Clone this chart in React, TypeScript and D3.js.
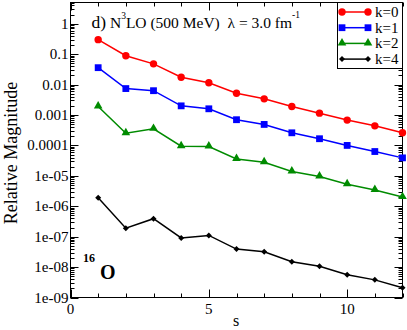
import React from 'react';
import * as d3 from 'd3';

// values, s = 1..12
const sValues = [1, 2, 3, 4, 5, 6, 7, 8, 9, 10, 11, 12];
const k0 = [0.3, 0.089, 0.048, 0.0175, 0.0115, 0.0052, 0.0034, 0.0019, 0.00115, 0.00068, 0.00044, 0.00026];
const k1 = [0.036, 0.0074, 0.0063, 0.002, 0.0016, 0.0007, 0.00049, 0.00026, 0.000166, 0.0001, 0.000063, 0.000039];
const k2 = [0.0019, 0.00025, 0.00035, 0.000094, 0.000092, 0.000036, 0.000028, 0.0000138, 0.0000095, 0.0000053, 0.0000034, 0.000002];
const k4 = [1.9e-6, 1.9e-7, 3.9e-7, 9.1e-8, 1.1e-7, 3.9e-8, 3.2e-8, 1.5e-8, 1.07e-8, 5.6e-9, 3.8e-9, 2.1e-9];
const seriesNames = ['k=0', 'k=1', 'k=2', 'k=4'];
const xTickLabels = ['0', '5', '10'];
const yTickLabels = ['1', '0.1', '0.01', '0.001', '0.0001', '1e-05', '1e-06', '1e-07', '1e-08', '1e-09'];

const W = 407, H = 330;
const left = 70.5, right = 402.5, top = 2.5, bottom = 297.5;
const font = '"Liberation Serif", "DejaVu Serif", serif';

const colors = ['#ff0000', '#0000ff', '#008b00', '#000000'];

function Marker({ kind, x, y, color }) {
  if (kind === 0) return <circle cx={x} cy={y} r={3.7} fill={color} />;
  if (kind === 1) return <rect x={x - 3.4} y={y - 3.4} width={6.8} height={6.8} fill={color} />;
  if (kind === 2) {
    const p = d3.symbol().type(d3.symbolTriangle).size(32)();
    return <path d={p} transform={`translate(${x},${y - 0.5})`} fill={color} />;
  }
  return <path d="M0,-3 L3,0 L0,3 L-3,0 Z" transform={`translate(${x},${y})`} fill={color} />;
}

export default function App() {
  const x = d3.scaleLinear().domain([0, 12]).range([left, right]);
  const y = d3.scaleLog().domain([1e-9, 5]).range([bottom, top]);
  const series = [k0, k1, k2, k4];
  const line = d3.line<number>().x((d, i) => x(sValues[i])).y(d => y(d));

  const yTicks = y.ticks().filter(t => t <= 5);
  const isMajor = (t: number) => Math.abs(Math.log10(t) - Math.round(Math.log10(t))) < 1e-9;
  const xMinor = d3.range(0, 13, 1);

  return (
    <svg width={W} height={H} style={{ position: 'absolute', left: 0, top: 0 }} fontFamily={font}>
      <rect width={W} height={H} fill="white" />
      {/* y ticks both sides */}
      {yTicks.map((t, i) => {
        const len = isMajor(t) ? 8 : 4;
        const yy = Math.round(y(t)) + 0.5;
        return (
          <g key={'y' + i} stroke="black" strokeWidth={1}>
            <line x1={left} x2={left + len} y1={yy} y2={yy} />
            <line x1={right} x2={right - len} y1={yy} y2={yy} />
          </g>
        );
      })}
      {yTicks.filter(isMajor).map((t) => {
        const idx = -Math.round(Math.log10(t));
        return (
          <text key={'yl' + t} x={left - 2} y={y(t) + 5} textAnchor="end" fontSize={15}>
            {yTickLabels[idx]}
          </text>
        );
      })}
      {/* x ticks top and bottom */}
      {xMinor.map(t => {
        const len = t % 5 === 0 ? 8 : 4;
        const xx = Math.round(x(t)) + 0.5;
        return (
          <g key={'x' + t} stroke="black" strokeWidth={1}>
            <line x1={xx} x2={xx} y1={bottom} y2={bottom - len} />
            <line x1={xx} x2={xx} y1={top} y2={top + len} />
          </g>
        );
      })}
      {[0, 5, 10].map((t, i) => (
        <text key={'xl' + t} x={x(t)} y={314} textAnchor="middle" fontSize={15}>
          {xTickLabels[i]}
        </text>
      ))}
      <rect x={left} y={top} width={right - left} height={bottom - top} fill="none" stroke="black" strokeWidth={1} />

      {/* series */}
      {series.map((s, si) => (
        <g key={'s' + si}>
          <path d={line(s)} fill="none" stroke={colors[si]} strokeWidth={1.5} />
          {s.map((v, i) => (
            <Marker key={i} kind={si} x={x(sValues[i])} y={y(v)} color={colors[si]} />
          ))}
        </g>
      ))}

      {/* title */}
      <text x={91.5} y={28.3} fontSize={15.5} xmlSpace="preserve">
        <tspan fontSize={17.5}>d)</tspan> N<tspan dy={-9} fontSize={9.5}>3</tspan><tspan dy={9}>LO (500 MeV)  λ = 3.0 fm</tspan>
        <tspan dy={-10} fontSize={9.5}>-1</tspan>
      </text>

      {/* nucleus label */}
      <text x={83} y={278.5} fontSize={20} fontWeight="bold">
        <tspan dy={-17} fontSize={12}>16</tspan><tspan dx={5} dy={17}>O</tspan>
      </text>

      {/* legend */}
      <rect x={337.5} y={top} width={right - 337.5} height={66} fill="white" stroke="black" strokeWidth={1} />
      {seriesNames.map((n, i) => {
        const ly = 12 + i * 15.7;
        return (
          <g key={'lg' + i}>
            <line x1={342} x2={368} y1={ly} y2={ly} stroke={colors[i]} strokeWidth={1.5} />
            <Marker kind={i} x={342} y={ly} color={colors[i]} />
            <Marker kind={i} x={368} y={ly} color={colors[i]} />
            <text x={375} y={ly + 5} fontSize={15}>{n}</text>
          </g>
        );
      })}

      {/* axis labels */}
      <text x={236} y={326} textAnchor="middle" fontSize={16}>s</text>
      <text transform="translate(17,153) rotate(-90)" textAnchor="middle" fontSize={18}>Relative Magnitude</text>
    </svg>
  );
}
